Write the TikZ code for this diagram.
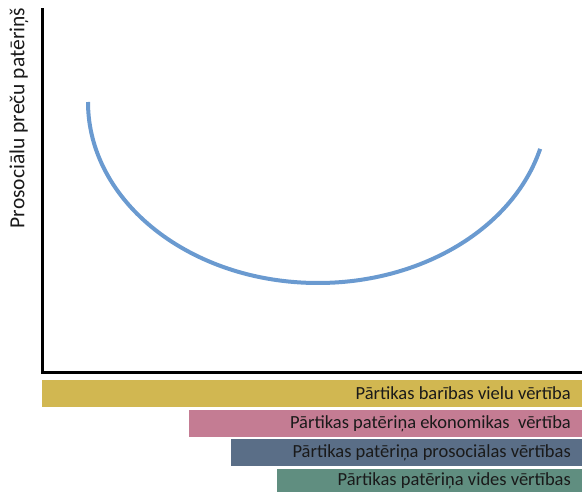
\documentclass[tikz,border=0pt]{standalone}
\usepackage{fontspec}
\setmainfont{Carlito}
\definecolor{barY}{HTML}{D1B751}
\definecolor{barP}{HTML}{C47C93}
\definecolor{barB}{HTML}{5A6E87}
\definecolor{barG}{HTML}{608E80}
\definecolor{curveC}{HTML}{6A9AD0}
\definecolor{txt}{HTML}{1A1A1A}
\tikzset{
  bartext/.style={anchor=east, text=txt, font=\fontsize{18.5}{20}\selectfont, inner sep=0pt},
  axis/.style={line width=3pt, black},
}
\begin{document}
\begin{tikzpicture}[x=1pt,y=-1pt]
\useasboundingbox (0,0) rectangle (582,492);
% axes
\coordinate (top) at (42.5,10);
\coordinate (origin) at (42.5,372.5);
\coordinate (right) at (582,372.5);
\draw[axis, line cap=rect] (top) -- (origin) -- (right);
% y label
\node[rotate=90, text=txt, font=\fontsize{21.5}{24}\selectfont, inner sep=0pt] (ylab) at (19,118) {Prosociālu preču patēriņš};
% curve
\draw[curveC, line width=4pt] (88,102) arc[start angle=180, end angle=15, x radius=230, y radius=181];
% bars
\fill[barY] (42,380) rectangle (582,406.5);
\fill[barP] (189,410) rectangle (582,436.7);
\fill[barB] (231,439) rectangle (582,465.7);
\fill[barG] (277,469) rectangle (582,492);
\node[bartext] (t1) at (571,393.5) {Pārtikas barības vielu vērtība};
\node[bartext] (t2) at (571,423.5) {Pārtikas patēriņa ekonomikas\ \ vērtība};
\node[bartext] (t3) at (571,452.5) {Pārtikas patēriņa prosociālas vērtības};
\node[bartext] (t4) at (571,480.5) {Pārtikas patēriņa vides vērtības};
\end{tikzpicture}
\end{document}
